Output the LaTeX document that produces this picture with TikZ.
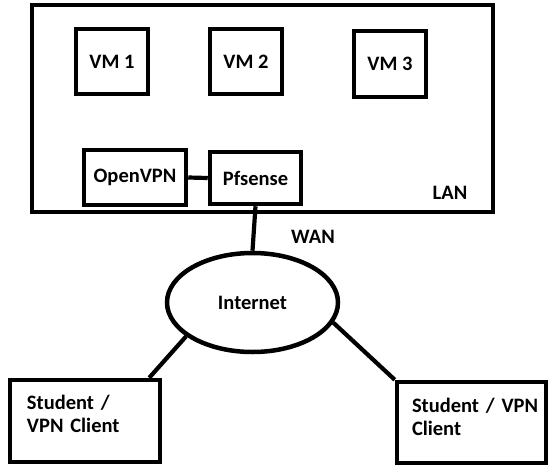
\documentclass[tikz,border=0pt]{standalone}
\usepackage{fontspec}
\setmainfont{Carlito}
\usetikzlibrary{shapes.geometric,calc}

\begin{document}
\begin{tikzpicture}[x=1pt,y=-1pt,
  box/.style={draw,line width=4.5pt,inner sep=0pt,font=\bfseries\fontsize{20.5}{23}\selectfont},
  link/.style={line width=4.2pt},
  lbl/.style={font=\bfseries\fontsize{20.5}{23}\selectfont}]
\useasboundingbox (0,0) rectangle (558,475);
% LAN with the virtual machines
\node[box,minimum width=461pt,minimum height=207pt] (lan) at (262.5,108.5) {};
\node[box,minimum width=72pt,minimum height=65pt] (vma) at (112,61.5) {VM 1};
\node[box,minimum width=72pt,minimum height=65pt] (vmb) at (246,61.5) {VM 2};
\node[box,minimum width=72pt,minimum height=66pt] (vmc) at (390,64) {VM 3};
\node[box,minimum width=102pt,minimum height=55pt] (ovpn) at (135,177.5) {OpenVPN};
\node[box,minimum width=91pt,minimum height=52pt] (pfs) at (255.5,178) {Pfsense};
\node[lbl] (lanlbl) at (450,193) {LAN};
\node[lbl] (wanlbl) at (313,237) {WAN};
% internet and clients
\node[box,ellipse,minimum width=171pt,minimum height=99pt] (inet) at (252.5,302.5) {Internet};
\node[box,minimum width=150pt,minimum height=82pt,text width=116pt,text depth=38pt,align=left] (stua) at (85,421) {Student /\\VPN Client};
\node[box,minimum width=149pt,minimum height=81pt,text width=119pt,text depth=34pt,align=left] (stub) at (471.5,422.5) {\mbox{Student / VPN}\\Client};
\draw[link] (ovpn.east) -- (pfs.west);
\draw[link] (pfs.south) -- (inet.north);
\draw[link] (inet.207) -- ([xshift=-13pt]stua.north east);
\draw[link] (inet.346) -- (stub.north west);
\end{tikzpicture}
\end{document}
